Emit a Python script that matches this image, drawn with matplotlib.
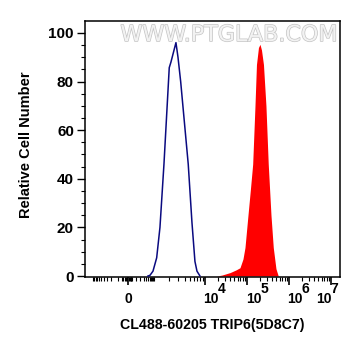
import numpy as np
import matplotlib
matplotlib.use("Agg")
import matplotlib.pyplot as plt
from matplotlib.ticker import FixedLocator
from matplotlib.transforms import ScaledTranslation
import matplotlib.patheffects as pe

plt.rcParams['font.family'] = ['Liberation Sans', 'DejaVu Sans']

# ---- data (fluorescence intensity, relative cell number) ----
control_x = [497, 629, 891, 1130, 1311, 1571, 1995, 2154, 2700, 2960, 3340,
             4700, 5560, 6360, 6970, 7980]
control_y = [0, 0.3, 2, 7.5, 20, 46, 85.7, 88, 96, 90, 80, 46, 22, 6, 2, 0]

stain_x = [18990, 25400, 39400, 54700, 68100, 80300, 89600, 105600, 121200,
           136700, 155100, 168300, 187800, 204000, 221400, 247000, 283000,
           321000, 373000, 423000, 490000, 556000]
stain_y = [0, 0.4, 1.4, 2.5, 3.4, 7, 11.7, 25, 36, 46, 70, 87, 94, 95.3, 93,
           87, 70, 46, 25, 11.7, 3, 0]

major_ticks = [0, 1e4, 1e5, 1e6, 1e7]
tick_bases = ['0', '10', '10', '10', '10']
tick_exps = ['', '4', '5', '6', '7']
xlabel = 'CL488-60205 TRIP6(5D8C7)'
ylabel = 'Relative Cell Number'
watermark = 'WWW.PTGLAB.COM'

# ---- logicle-like display scale (anchor values -> display units) ----
anchor_vals = np.array([-1e4, -1e3, 0, 1e3, 1e4, 1e5, 1e6, 1e7, 1e8])
anchor_pos = np.array([51, 93, 128, 154, 205, 247, 289, 331, 373], dtype=float)
anchor_s = np.arcsinh(anchor_vals / 100.0)


def fwd(x):
    x = np.asarray(x, dtype=float)
    return np.interp(np.arcsinh(x / 100.0), anchor_s, anchor_pos)


def inv(p):
    p = np.asarray(p, dtype=float)
    return 100.0 * np.sinh(np.interp(p, anchor_pos, anchor_s))


fig = plt.figure(figsize=(3.61, 3.56), dpi=100)
ax = fig.add_axes([85 / 361, 1 - 277 / 356, 255 / 361, 256 / 356])
ax.set_xscale('function', functions=(fwd, inv))

ax.fill_between(stain_x, stain_y, 0, color='#ff0000', linewidth=0, zorder=2)
ax.plot(control_x, control_y, color='#0a0a80', linewidth=1.1, zorder=3)

ax.set_xlim(-1550, 1.64e7)
ax.set_ylim(-0.4, 104.9)

# x ticks
minor = [-1000]
minor += [-v for v in range(100, 1000, 100)] + [-v for v in range(10, 60, 10)]
minor += list(range(10, 60, 10)) + list(range(100, 1000, 100))
minor += [1000]
for dec in [1e3, 1e4, 1e5, 1e6]:
    minor += [k * dec for k in range(2, 10)]
ax.xaxis.set_major_locator(FixedLocator(major_ticks))
ax.xaxis.set_minor_locator(FixedLocator(minor))
ax.set_xticklabels([''] * len(major_ticks))
ax.tick_params(axis='x', which='major', direction='out', length=6, width=1.2)
ax.tick_params(axis='x', which='minor', direction='out', length=3, width=0.8)


def px(dx, dy):
    return ScaledTranslation(dx / 100, dy / 100, fig.dpi_scale_trans)


xt = ax.get_xaxis_transform()
base_dx = [0, -2, -1, -2, -15]
for v, b, e, dx in zip(major_ticks, tick_bases, tick_exps, base_dx):
    if e == '':
        ax.text(v, 0, b, transform=xt + px(dx, -26), ha='center',
                va='baseline', fontsize=10, fontweight='bold', clip_on=False)
    else:
        ax.text(v, 0, b, transform=xt + px(dx, -26), ha='left',
                va='baseline', fontsize=10, fontweight='bold', clip_on=False)
        ax.text(v, 0, e, transform=xt + px(dx + 14.5, -16), ha='left',
                va='baseline', fontsize=10, fontweight='bold', clip_on=False)

# y ticks
ax.set_yticks([0, 20, 40, 60, 80, 100])
ax.set_yticks(np.arange(0, 101, 5), minor=True)
ax.tick_params(axis='y', which='major', direction='out', length=6, width=1,
               labelsize=11, pad=2)
ax.tick_params(axis='y', which='minor', direction='out', length=3, width=0.8)
for lab in ax.get_yticklabels():
    lab.set_fontweight('bold')

for sp in ax.spines.values():
    sp.set_linewidth(1.1)
    sp.set_color('black')

ax.set_xlabel(xlabel, fontsize=10.2, fontweight='bold')
ax.xaxis.set_label_coords(0.5, -0.16)
ax.set_ylabel(ylabel, fontsize=10.5, fontweight='bold')
ax.yaxis.set_label_coords(-0.205, 0.517)

ax.text(0.565, 0.945, watermark, transform=ax.transAxes, ha='center',
        va='center', fontsize=16, color='#f2f2f2', family='DejaVu Sans',
        path_effects=[pe.withStroke(linewidth=1.0, foreground='#c4c4c4')],
        zorder=1)

fig.savefig('out.png', dpi=100)
